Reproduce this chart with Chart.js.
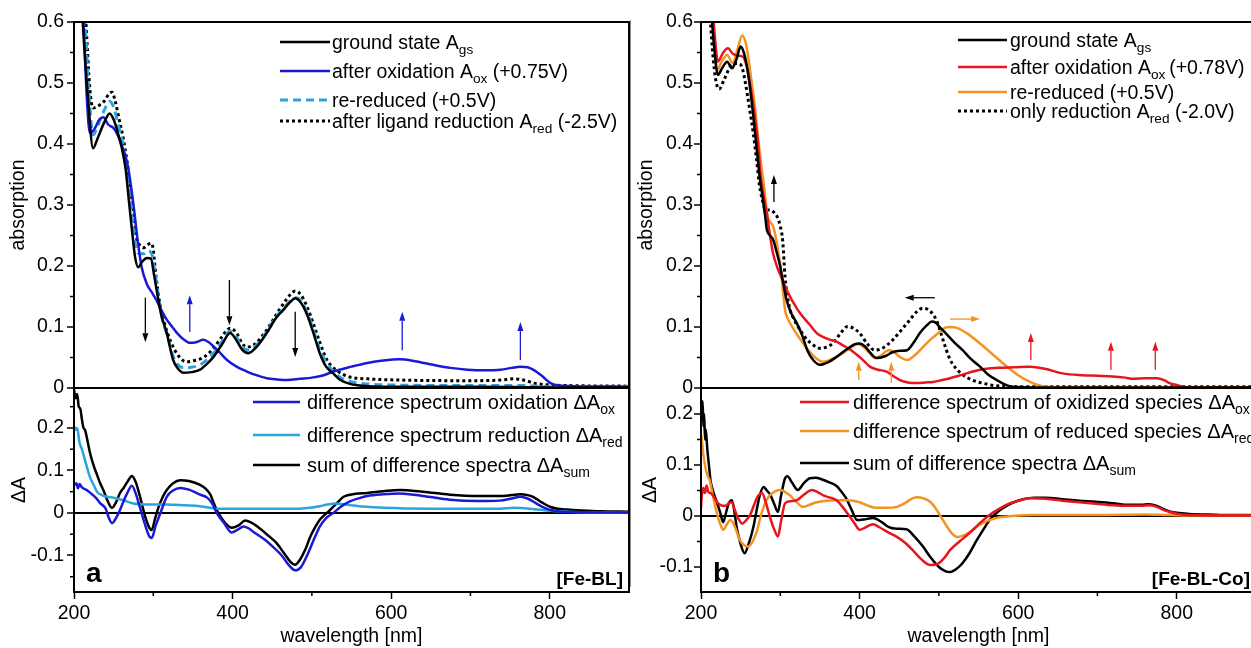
<!DOCTYPE html>
<html><head><meta charset="utf-8">
<script src="https://cdn.jsdelivr.net/npm/chart.js@4.4.1/dist/chart.umd.min.js"></script>
<style>
html,body{margin:0;padding:0;background:#fff;width:1251px;height:648px;overflow:hidden;position:relative}
canvas{position:absolute}
#sep{position:absolute;left:630px;top:20px;width:1px;height:567px;background:#8c8c8c}
</style></head><body>
<canvas id="aTop" width="640" height="420" style="left:0;top:0"></canvas>
<canvas id="aBot" width="640" height="288" style="left:0;top:360px"></canvas>
<div id="sep"></div>
<canvas id="bTop" width="640" height="420" style="left:627px;top:0"></canvas>
<canvas id="bBot" width="640" height="288" style="left:627px;top:360px"></canvas>
<script>
const FONT = "'Liberation Sans', Arial, Helvetica, sans-serif";
Chart.defaults.font.family = FONT;
Chart.defaults.color = '#000';

// ---- tick labels ----
const wlTicks = [200, 400, 600, 800];
const wlMinor = [300, 500, 700];
const absTicks = [0, 0.1, 0.2, 0.3, 0.4, 0.5, 0.6];
const absMinor = [0.05, 0.15, 0.25, 0.35, 0.45, 0.55];
const dTicks = [-0.1, 0, 0.1, 0.2];
const dMinorA = [-0.15, -0.05, 0.05, 0.15, 0.25];
const dMinorB = [-0.05, 0.05, 0.15];

// ---- panel a, absorption ----
const a_gs = [[200,0.95],[206,0.74],[211,0.6],[218,0.47],[224,0.393],[230,0.41],[238,0.435],[245,0.45],[250,0.44],[255,0.42],[260,0.395],[265,0.36],[269,0.31],[273,0.26],[277,0.215],[281,0.198],[286,0.207],[292,0.213],[297,0.212],[301,0.185],[305,0.155],[310,0.12],[317,0.09],[325,0.046],[331,0.032],[338,0.025],[348,0.026],[359,0.03],[368,0.04],[376,0.051],[386,0.07],[397,0.09],[404,0.08],[412,0.063],[420,0.057],[430,0.067],[443,0.09],[455,0.115],[464,0.128],[472,0.14],[479,0.147],[486,0.14],[494,0.12],[502,0.09],[510,0.057],[518,0.035],[527,0.024],[535,0.014],[545,0.008],[560,0.004],[600,0.002],[700,0.002],[800,0.001],[900,0.001]];
const a_ox = [[200,0.95],[205,0.75],[212,0.6],[216,0.48],[220,0.418],[226,0.425],[232,0.44],[237,0.444],[243,0.432],[250,0.426],[255,0.415],[261,0.395],[267,0.37],[272,0.33],[276,0.29],[280,0.245],[285,0.2],[292,0.17],[298,0.157],[304,0.144],[310,0.128],[317,0.112],[324,0.1],[330,0.09],[338,0.08],[346,0.074],[354,0.075],[363,0.079],[370,0.075],[376,0.068],[384,0.058],[393,0.046],[405,0.035],[418,0.027],[430,0.021],[443,0.016],[456,0.014],[469,0.013],[485,0.015],[500,0.017],[515,0.021],[527,0.027],[550,0.035],[570,0.041],[590,0.045],[611,0.047],[630,0.044],[653,0.038],[675,0.033],[696,0.03],[720,0.029],[738,0.03],[752,0.033],[763,0.035],[772,0.034],[779,0.03],[790,0.02],[801,0.008],[812,0.004],[830,0.003],[900,0.002]];
const a_rr = [[200,0.95],[207,0.75],[214,0.6],[219,0.48],[224,0.415],[230,0.43],[238,0.455],[245,0.47],[250,0.46],[256,0.43],[261,0.405],[266,0.365],[270,0.32],[274,0.27],[278,0.23],[283,0.22],[288,0.22],[293,0.225],[298,0.22],[302,0.19],[306,0.155],[311,0.115],[318,0.085],[325,0.052],[331,0.038],[338,0.033],[348,0.034],[359,0.038],[368,0.047],[376,0.057],[386,0.075],[397,0.093],[404,0.085],[412,0.068],[420,0.062],[430,0.07],[443,0.092],[455,0.117],[464,0.13],[472,0.142],[480,0.148],[487,0.142],[494,0.124],[502,0.095],[510,0.063],[518,0.042],[527,0.028],[535,0.018],[545,0.012],[560,0.008],[600,0.005],[700,0.004],[770,0.004],[800,0.002],[900,0.002]];
const a_red = [[200,0.95],[208,0.76],[215,0.6],[220,0.49],[224,0.459],[230,0.462],[238,0.47],[244,0.482],[248,0.485],[252,0.47],[257,0.44],[262,0.41],[267,0.37],[271,0.33],[275,0.29],[279,0.245],[283,0.234],[288,0.23],[293,0.235],[298,0.237],[304,0.177],[308,0.14],[313,0.111],[322,0.076],[334,0.049],[342,0.043],[352,0.045],[363,0.05],[376,0.065],[386,0.083],[397,0.098],[405,0.09],[412,0.073],[418,0.067],[428,0.072],[443,0.095],[455,0.12],[464,0.138],[472,0.152],[479,0.159],[486,0.153],[494,0.133],[502,0.105],[510,0.075],[519,0.046],[530,0.03],[548,0.018],[570,0.015],[611,0.013],[700,0.012],[738,0.013],[755,0.015],[770,0.012],[780,0.008],[800,0.005],[822,0.004],[900,0.003]];

// ---- panel a, difference spectra ----
const da_ox = [[200,0.065],[203,0.07],[205,0.058],[207,0.068],[210,0.06],[216,0.054],[222,0.045],[228,0.035],[233,0.023],[240,0.01],[244,-0.012],[248,-0.024],[253,-0.012],[258,0.007],[263,0.03],[267,0.046],[273,0.064],[278,0.045],[283,0.014],[290,-0.03],[295,-0.055],[298,-0.059],[303,-0.03],[309,0],[317,0.038],[325,0.053],[334,0.059],[345,0.055],[359,0.043],[368,0.036],[375,0.02],[380,0],[389,-0.023],[399,-0.046],[406,-0.04],[414,-0.032],[420,-0.036],[426,-0.044],[440,-0.062],[451,-0.08],[462,-0.1],[472,-0.125],[479,-0.135],[486,-0.128],[494,-0.1],[502,-0.065],[510,-0.032],[518,-0.012],[527,0],[537,0.015],[548,0.027],[560,0.035],[570,0.04],[590,0.044],[611,0.046],[640,0.04],[674,0.031],[710,0.028],[737,0.029],[752,0.034],[763,0.038],[772,0.034],[779,0.027],[790,0.015],[801,0.007],[822,0.002],[900,0.001]];
const da_red = [[200,0.205],[202,0.195],[204,0.2],[207,0.165],[210,0.15],[213,0.13],[216,0.11],[220,0.085],[225,0.065],[229,0.05],[235,0.042],[242,0.038],[250,0.036],[262,0.03],[275,0.022],[290,0.02],[317,0.02],[340,0.018],[359,0.016],[380,0.01],[410,0.01],[440,0.01],[480,0.01],[500,0.013],[510,0.016],[520,0.02],[530,0.022],[545,0.019],[565,0.015],[590,0.012],[650,0.01],[700,0.01],[737,0.01],[755,0.012],[775,0.01],[801,0.005],[830,0.002],[900,0.001]];
const da_sum = [[200,0.29],[202,0.27],[204,0.28],[206,0.25],[208,0.245],[210,0.22],[212,0.2],[214,0.195],[217,0.17],[220,0.143],[225,0.11],[229,0.09],[233,0.07],[237,0.054],[242,0.03],[248,0.012],[253,0.025],[258,0.047],[263,0.06],[268,0.075],[273,0.087],[278,0.072],[283,0.04],[290,-0.01],[295,-0.035],[298,-0.04],[302,-0.015],[306,0.01],[312,0.038],[317,0.054],[325,0.07],[334,0.077],[345,0.075],[359,0.066],[366,0.057],[372,0.043],[377,0.02],[382,0],[390,-0.022],[399,-0.035],[407,-0.03],[416,-0.018],[423,-0.022],[430,-0.03],[443,-0.05],[455,-0.07],[465,-0.095],[473,-0.115],[479,-0.122],[485,-0.11],[492,-0.085],[498,-0.056],[504,-0.034],[510,-0.016],[517,-0.003],[523,0.007],[531,0.022],[540,0.038],[555,0.045],[570,0.047],[590,0.051],[611,0.054],[640,0.05],[674,0.043],[710,0.04],[737,0.04],[752,0.042],[763,0.044],[772,0.042],[779,0.038],[790,0.025],[801,0.014],[810,0.01],[822,0.008],[840,0.006],[864,0.004],[900,0.003]];

// ---- panel b, absorption ----
const b_gs = [[200,0.95],[208,0.75],[214,0.6],[218,0.54],[221,0.513],[227,0.525],[233,0.535],[239,0.524],[245,0.54],[250,0.56],[254,0.55],[258,0.527],[262,0.49],[266,0.445],[270,0.395],[274,0.346],[278,0.31],[281,0.281],[283,0.26],[287,0.25],[291,0.243],[296,0.22],[300,0.199],[304,0.17],[308,0.144],[314,0.122],[321,0.106],[328,0.085],[334,0.062],[342,0.045],[350,0.038],[360,0.042],[371,0.051],[380,0.06],[388,0.067],[394,0.072],[400,0.073],[407,0.068],[414,0.057],[422,0.049],[432,0.052],[442,0.059],[451,0.061],[460,0.062],[468,0.074],[476,0.09],[485,0.103],[491,0.109],[496,0.107],[501,0.1],[510,0.088],[520,0.074],[530,0.062],[540,0.048],[552,0.035],[562,0.022],[573,0.013],[583,0.006],[593,0.002],[620,0.001],[900,0.001]];
const b_ox = [[200,0.95],[209,0.75],[216,0.6],[219,0.555],[221,0.535],[228,0.55],[234,0.557],[240,0.548],[246,0.545],[253,0.543],[258,0.525],[263,0.49],[268,0.445],[272,0.4],[275,0.35],[279,0.315],[283,0.286],[287,0.25],[291,0.22],[297,0.195],[303,0.177],[309,0.158],[316,0.141],[322,0.128],[329,0.116],[337,0.104],[346,0.09],[355,0.083],[363,0.079],[371,0.076],[379,0.07],[388,0.063],[397,0.054],[405,0.045],[413,0.035],[423,0.03],[434,0.027],[442,0.02],[451,0.013],[461,0.009],[472,0.008],[483,0.009],[493,0.01],[504,0.013],[514,0.016],[530,0.022],[552,0.03],[575,0.033],[595,0.034],[615,0.035],[635,0.031],[656,0.024],[680,0.021],[700,0.02],[719,0.019],[735,0.017],[745,0.015],[760,0.016],[775,0.016],[784,0.013],[791,0.008],[800,0.005],[813,0.001],[900,0.001]];
const b_rr = [[200,0.95],[208,0.76],[215,0.6],[218,0.545],[220,0.52],[226,0.535],[233,0.546],[240,0.533],[246,0.555],[252,0.578],[256,0.568],[259,0.548],[263,0.51],[268,0.46],[272,0.41],[275,0.375],[279,0.336],[284,0.281],[287,0.272],[291,0.265],[296,0.235],[300,0.2],[303,0.165],[306,0.128],[309,0.115],[312,0.107],[320,0.09],[329,0.073],[340,0.055],[354,0.043],[366,0.048],[379,0.057],[390,0.067],[398,0.072],[406,0.066],[412,0.058],[419,0.049],[427,0.053],[433,0.06],[438,0.062],[444,0.058],[452,0.05],[460,0.046],[470,0.054],[480,0.067],[490,0.08],[501,0.092],[508,0.099],[514,0.1],[522,0.099],[535,0.09],[552,0.073],[568,0.055],[586,0.035],[600,0.021],[615,0.01],[625,0.005],[636,0.002],[660,0.001],[900,0.001]];
const b_red = [[200,0.95],[207,0.72],[213,0.58],[218,0.51],[223,0.49],[229,0.505],[237,0.527],[244,0.532],[250,0.53],[253,0.52],[256,0.5],[261,0.46],[266,0.417],[270,0.375],[274,0.33],[278,0.305],[281,0.292],[287,0.292],[292,0.288],[296,0.281],[300,0.265],[303,0.242],[306,0.182],[309,0.15],[312,0.13],[316,0.116],[325,0.095],[334,0.079],[342,0.07],[350,0.065],[358,0.067],[366,0.073],[375,0.088],[385,0.101],[392,0.098],[400,0.09],[410,0.072],[419,0.062],[430,0.066],[442,0.079],[452,0.094],[463,0.111],[472,0.125],[480,0.131],[487,0.128],[493,0.12],[498,0.108],[503,0.088],[508,0.068],[514,0.047],[521,0.033],[530,0.022],[542,0.013],[555,0.008],[570,0.004],[584,0.003],[600,0.002],[900,0.002]];

// ---- panel b, difference spectra ----
const db_ox = [[200,0.015],[201,0.04],[203,0.055],[205,0.045],[207,0.06],[209,0.048],[212,0.045],[215,0.04],[220,0.028],[224,0.022],[231,0.02],[236,0.026],[239,0.027],[242,0.015],[245,0.002],[249,-0.01],[252,-0.015],[256,-0.01],[262,0.002],[267,0.022],[271,0.037],[277,0.045],[282,0.025],[287,-0.002],[292,-0.025],[297,-0.04],[301,-0.01],[306,0.025],[313,0.029],[321,0.031],[330,0.042],[340,0.051],[348,0.046],[355,0.04],[363,0.036],[371,0.031],[380,0.015],[388,-0.002],[394,-0.015],[400,-0.027],[408,-0.022],[417,-0.016],[425,-0.022],[436,-0.032],[447,-0.041],[457,-0.052],[467,-0.067],[478,-0.085],[489,-0.096],[496,-0.095],[502,-0.09],[508,-0.08],[514,-0.067],[526,-0.05],[539,-0.033],[551,-0.015],[564,0.002],[577,0.015],[590,0.025],[603,0.031],[615,0.035],[635,0.034],[656,0.03],[677,0.027],[698,0.024],[720,0.021],[740,0.02],[755,0.02],[765,0.021],[775,0.018],[783,0.012],[791,0.008],[802,0.004],[816,0.002],[900,0.001]];
const db_red = [[200,0.16],[201,0.15],[203,0.12],[205,0.1],[208,0.08],[211,0.07],[215,0.04],[220,0.006],[224,-0.015],[228,-0.027],[233,-0.015],[237,-0.008],[240,-0.012],[243,-0.022],[249,-0.047],[254,-0.057],[259,-0.06],[265,-0.05],[271,-0.027],[275,-0.002],[279,0.018],[283,0.032],[287,0.041],[294,0.049],[300,0.051],[306,0.047],[312,0.041],[320,0.028],[329,0.018],[337,0.022],[346,0.027],[358,0.03],[371,0.031],[385,0.031],[400,0.027],[411,0.02],[422,0.016],[435,0.016],[447,0.018],[458,0.026],[466,0.034],[472,0.037],[480,0.035],[489,0.028],[496,0.015],[502,0.0],[510,-0.02],[517,-0.035],[523,-0.041],[533,-0.037],[543,-0.027],[554,-0.015],[564,-0.008],[578,-0.002],[592,0.0],[620,0.002],[700,0.002],[760,0.003],[790,0.002],[830,0.001],[900,0.001]];
const db_sum = [[200,0.227],[201,0.2],[202,0.225],[203,0.176],[204,0.2],[205,0.15],[206,0.17],[208,0.13],[210,0.1],[212,0.07],[215,0.05],[220,0.027],[224,0.008],[228,-0.012],[231,0.003],[235,0.025],[239,0.031],[242,0.01],[245,-0.022],[250,-0.055],[255,-0.073],[260,-0.055],[266,-0.022],[270,0.01],[274,0.04],[279,0.057],[283,0.05],[287,0.043],[292,0.025],[297,0.008],[301,0.04],[306,0.074],[309,0.078],[315,0.065],[322,0.051],[330,0.065],[337,0.074],[345,0.075],[352,0.072],[362,0.066],[371,0.059],[377,0.048],[383,0.035],[390,0.012],[397,-0.008],[405,-0.007],[417,-0.004],[428,-0.012],[437,-0.022],[447,-0.025],[459,-0.026],[469,-0.04],[480,-0.06],[490,-0.082],[500,-0.1],[508,-0.108],[514,-0.11],[522,-0.104],[530,-0.092],[539,-0.072],[548,-0.047],[556,-0.027],[564,-0.008],[572,0.005],[581,0.016],[593,0.026],[606,0.033],[620,0.036],[635,0.036],[656,0.033],[677,0.03],[698,0.028],[720,0.025],[740,0.022],[755,0.022],[765,0.023],[775,0.02],[783,0.014],[791,0.009],[803,0.006],[816,0.004],[840,0.003],[870,0.002],[900,0.002]];

// ---- arrows (data units) ----
const arrowsA = [
  {x:290, y0:0.148, y1:0.075, c:'#000'},
  {x:346, y0:0.092, y1:0.152, c:'blue'},
  {x:396, y0:0.177, y1:0.103, c:'#000'},
  {x:479, y0:0.125, y1:0.051, c:'#000'},
  {x:614, y0:0.062, y1:0.125, c:'blue'},
  {x:763, y0:0.046, y1:0.108, c:'blue'}
];
const arrowsB = [
  {x:292, y0:0.305, y1:0.349, c:'#000'},
  {y:0.148, x0:495, x1:457, c:'#000'},
  {y:0.113, x0:514, x1:552, c:'orange'},
  {x:399, y0:0.013, y1:0.043, c:'orange'},
  {x:440, y0:0.008, y1:0.043, c:'orange'},
  {x:616, y0:0.046, y1:0.09, c:'red'},
  {x:717, y0:0.03, y1:0.076, c:'red'},
  {x:773, y0:0.03, y1:0.076, c:'red'}
];

const COL = {black:'#000000', blue:'#1a1ad4', cyan:'#2ba4dd', red:'#e8161c', orange:'#f39322'};
const DOT = [3, 3], DASH = [8, 5];

function parseLabel(s) {
  const parts = []; const re = /_\{([^}]*)\}/g; let last = 0, m;
  while ((m = re.exec(s))) {
    if (m.index > last) parts.push({t: s.slice(last, m.index)});
    parts.push({t: m[1], sub: true}); last = re.lastIndex;
  }
  if (last < s.length) parts.push({t: s.slice(last)});
  return parts;
}

function arrowColor(c) { return c === 'blue' ? COL.blue : c === 'orange' ? COL.orange : c === 'red' ? COL.red : '#000'; }

const decoPlugin = {
  id: 'deco',
  afterDatasetsDraw(chart, args, o) {
    const ctx = chart.ctx, a = chart.chartArea, xs = chart.scales.x, ys = chart.scales.y;
    ctx.save();
    ctx.setLineDash([]);
    (o.arrows || []).forEach(ar => {
      let x0, y0, x1, y1;
      if (ar.x !== undefined) { x0 = x1 = xs.getPixelForValue(ar.x); y0 = ys.getPixelForValue(ar.y0); y1 = ys.getPixelForValue(ar.y1); }
      else { y0 = y1 = ys.getPixelForValue(ar.y); x0 = xs.getPixelForValue(ar.x0); x1 = xs.getPixelForValue(ar.x1); }
      const col = arrowColor(ar.c);
      const ang = Math.atan2(y1 - y0, x1 - x0), hl = 9, hw = 3;
      const bx = x1 - hl * Math.cos(ang), by = y1 - hl * Math.sin(ang);
      ctx.strokeStyle = col; ctx.fillStyle = col; ctx.lineWidth = 1.3;
      ctx.beginPath(); ctx.moveTo(x0, y0); ctx.lineTo(bx, by); ctx.stroke();
      ctx.beginPath(); ctx.moveTo(x1, y1);
      ctx.lineTo(bx + hw * Math.sin(ang), by - hw * Math.cos(ang));
      ctx.lineTo(bx - hw * Math.sin(ang), by + hw * Math.cos(ang));
      ctx.closePath(); ctx.fill();
    });
    ctx.strokeStyle = '#000'; ctx.lineWidth = 2;
    ctx.strokeRect(a.left, a.top, a.right - a.left, a.bottom - a.top);
    ctx.lineWidth = 1.5;
    (o.yMinor || []).forEach(v => { const y = ys.getPixelForValue(v); ctx.beginPath(); ctx.moveTo(a.left - 4, y); ctx.lineTo(a.left, y); ctx.stroke(); });
    (o.xMinor || []).forEach(v => { const x = xs.getPixelForValue(v); ctx.beginPath(); ctx.moveTo(x, a.bottom); ctx.lineTo(x, a.bottom + 4); ctx.stroke(); });
    const L = o.legend;
    if (L) {
      chart.data.datasets.forEach((ds, i) => {
        const y = a.top + L.rows[i], x0 = a.left + L.x;
        ctx.strokeStyle = ds.borderColor; ctx.lineWidth = ds.borderWidth; ctx.setLineDash(ds.borderDash || []);
        ctx.beginPath(); ctx.moveTo(x0, y); ctx.lineTo(x0 + L.len, y); ctx.stroke();
        ctx.setLineDash([]);
        let tx = x0 + L.len + L.gap; const base = y + L.size * 0.34;
        ctx.fillStyle = '#000'; ctx.textAlign = 'left'; ctx.textBaseline = 'alphabetic';
        parseLabel(ds.label).forEach(p => {
          const fs = p.sub ? L.size * 0.7 : L.size;
          ctx.font = fs + 'px ' + FONT;
          ctx.fillText(p.t, tx, base + (p.sub ? L.size * 0.28 : 0));
          tx += ctx.measureText(p.t).width;
        });
      });
    }
    if (o.letter) {
      ctx.fillStyle = '#000'; ctx.textBaseline = 'alphabetic';
      ctx.font = 'bold 28px ' + FONT; ctx.textAlign = 'left';
      ctx.fillText(o.letter, a.left + 12, a.bottom - 10);
      ctx.font = 'bold 19px ' + FONT; ctx.textAlign = 'right';
      ctx.fillText(o.tag, a.right - 6, a.bottom - 7);
    }
    ctx.restore();
  }
};

function tickFmt(v) { return Math.abs(v) < 1e-9 ? '0' : (Math.round(v * 10) / 10).toFixed(1); }

function build(id, P) {
  const tickFont = {family: FONT, size: 19.5};
  const titleFont = {family: FONT, size: 19.5};
  return new Chart(document.getElementById(id), {
    type: 'line',
    data: {datasets: P.series.map(s => ({
      label: s.label, data: s.data.map(p => ({x: p[0], y: p[1]})),
      borderColor: s.color, borderWidth: s.width || 2.5, borderDash: s.dash || [],
      pointRadius: 0, pointHoverRadius: 0, fill: false, tension: 0.3, cubicInterpolationMode: 'monotone'
    }))},
    options: {
      responsive: false, animation: false, devicePixelRatio: 1, events: [],
      layout: {padding: {left: 0, right: 11, top: P.padTop, bottom: P.padBottom}},
      plugins: {legend: {display: false}, tooltip: {enabled: false},
        deco: {arrows: P.arrows, yMinor: P.yMinor, xMinor: P.xMinor, legend: P.legend, letter: P.letter, tag: P.tag}},
      scales: {
        x: {
          type: 'linear', min: 200, max: 900, display: P.showX,
          afterBuildTicks: s => { s.ticks = wlTicks.map(v => ({value: v})); },
          afterFit: s => { s.height = P.showX ? 56 : 0; },
          ticks: {font: tickFont, color: '#000', padding: 3, maxRotation: 0, callback: v => String(v)},
          grid: {display: true, drawOnChartArea: false, drawTicks: true, tickLength: 7, tickColor: '#000', tickWidth: 1.5, color: 'rgba(0,0,0,0)'},
          border: {display: false},
          title: {display: true, text: 'wavelength [nm]', font: titleFont, color: '#000', padding: {top: 0, bottom: 0}}
        },
        y: {
          type: 'linear', min: P.yMin, max: P.yMax,
          afterBuildTicks: s => { s.ticks = P.yTicks.map(v => ({value: v})); },
          afterFit: s => { s.width = 74; },
          ticks: {font: tickFont, color: '#000', padding: P.tickPad, callback: tickFmt},
          grid: {display: true, drawOnChartArea: P.zeroLine, drawTicks: true, tickLength: 7, tickColor: '#000', tickWidth: 1.5, lineWidth: 2,
            color: c => (P.zeroLine && c.tick && Math.abs(c.tick.value) < 1e-9) ? '#000' : 'rgba(0,0,0,0)'},
          border: {display: false},
          title: {display: true, text: P.yTitle, font: titleFont, color: '#000', padding: {top: P.titlePad, bottom: 0}}
        }
      }
    },
    plugins: [decoPlugin]
  });
}

build('aTop', {
  series: [
    {label: 'ground state A_{gs}', data: a_gs, color: COL.black},
    {label: 'after oxidation A_{ox} (+0.75V)', data: a_ox, color: COL.blue},
    {label: 're-reduced (+0.5V)', data: a_rr, color: COL.cyan, dash: DASH, width: 3},
    {label: 'after ligand reduction A_{red} (-2.5V)', data: a_red, color: COL.black, dash: DOT, width: 3}
  ],
  padTop: 22, padBottom: 32, showX: false, yMin: 0, yMax: 0.6, yTicks: absTicks, yMinor: absMinor,
  yTitle: 'absorption', titlePad: 7, tickPad: 3, zeroLine: false, arrows: arrowsA,
  legend: {x: 206, len: 50, gap: 2, size: 19.5, rows: [20, 49, 78, 99]}
});
build('aBot', {
  series: [
    {label: 'difference spectrum oxidation ΔA_{ox}', data: da_ox, color: COL.blue},
    {label: 'difference spectrum reduction ΔA_{red}', data: da_red, color: COL.cyan},
    {label: 'sum of difference spectra ΔA_{sum}', data: da_sum, color: COL.black}
  ],
  padTop: 28, padBottom: 0, showX: true, yMin: -0.186, yMax: 0.294, yTicks: dTicks, yMinor: dMinorA, xMinor: wlMinor,
  yTitle: 'ΔA', titlePad: 8, tickPad: 3, zeroLine: true, letter: 'a', tag: '[Fe-BL]',
  legend: {x: 179, len: 47, gap: 7, size: 20, rows: [14, 47, 77]}
});
build('bTop', {
  series: [
    {label: 'ground state A_{gs}', data: b_gs, color: COL.black},
    {label: 'after oxidation A_{ox}\u2009(+0.78V)', data: b_ox, color: COL.red},
    {label: 're-reduced (+0.5V)', data: b_rr, color: COL.orange},
    {label: 'only reduction A_{red} (-2.0V)', data: b_red, color: COL.black, dash: DOT, width: 3}
  ],
  padTop: 22, padBottom: 32, showX: false, yMin: 0, yMax: 0.6, yTicks: absTicks, yMinor: absMinor,
  yTitle: 'absorption', titlePad: 8, tickPad: 1, zeroLine: false, arrows: arrowsB,
  legend: {x: 257, len: 49, gap: 3, size: 19.5, rows: [18, 45, 70, 89]}
});
build('bBot', {
  series: [
    {label: 'difference spectrum of oxidized species ΔA_{ox}', data: db_ox, color: COL.red},
    {label: 'difference spectrum of reduced species ΔA_{red}', data: db_red, color: COL.orange},
    {label: 'sum of difference spectra ΔA_{sum}', data: db_sum, color: COL.black}
  ],
  padTop: 28, padBottom: 0, showX: true, yMin: -0.149, yMax: 0.251, yTicks: dTicks, yMinor: dMinorB, xMinor: wlMinor,
  yTitle: 'ΔA', titlePad: 12, tickPad: 1, zeroLine: true, letter: 'b', tag: '[Fe-BL-Co]',
  legend: {x: 99, len: 49, gap: 4, size: 20, rows: [14, 43, 75]}
});
</script></body></html>
